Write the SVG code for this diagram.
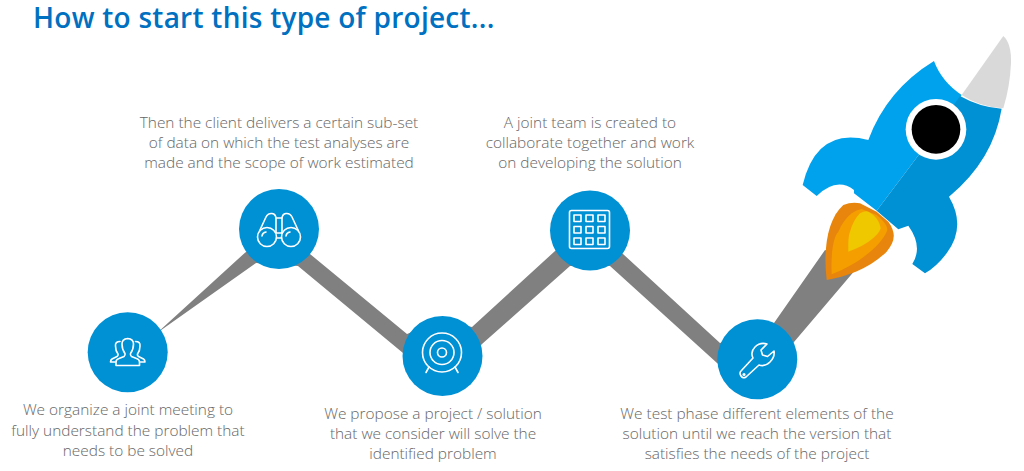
<svg xmlns="http://www.w3.org/2000/svg" width="1024" height="471" viewBox="0 0 1024 471">
<style>
.t{font-family:"Open Sans","Noto Sans","Liberation Sans",sans-serif;font-weight:300;font-size:15.4px;fill:#666;text-anchor:middle}
.title{font-family:"Open Sans","Noto Sans","Liberation Sans",sans-serif;font-weight:600;font-size:28px;fill:#0070c0;letter-spacing:.25px}
.c{fill:#0090d4}
.i{fill:none;stroke:#fff;stroke-width:1.6;stroke-linecap:round;stroke-linejoin:round}
</style>
<rect width="1024" height="471" fill="#fff"/>
<g id="title"><text class="title" x="33" y="28">How to start this type of project...</text></g>
<g id="connectors">
<path fill="#808080" d="M157 333L245 252.700L279 229L310 254L407 334L442 320L472 327L555 251L590 230L623 254L720 343L757 330L774 323L825 250L862 262L794 342L757 395L717 363L610 266L570 266L482 344L442 390L403 353L298 266L256 263Z"/>
</g>
<g id="node1">
<circle class="c" cx="127.700" cy="352.300" r="40"/>
<g class="i"><path d="M116 365.500L116 362Q116 359.500 119 358.500L124 356.500Q125.500 355.500 125 353.500Q122 349.500 122 344Q122 339 127.700 338.500Q133.500 339 133.500 344Q133.500 349.500 130.500 353.500Q130 355.500 131.500 356.500L136.500 358.500Q139.500 359.500 139.500 362L139.500 365.500Z"/>
<path d="M120 341.500Q115 341.500 115.500 346Q115.500 351 118 354Q118.500 356 116 357L112 359Q110.500 360 110.500 362L115 362"/>
<path d="M135.500 341.500Q140.500 341.500 140 346Q140 351 137.500 354Q137 356 139.500 357L143.500 359Q145 360 145 362L140.500 362"/></g>
</g>
<g id="node2">
<circle class="c" cx="279" cy="229" r="40"/>
<g class="i"><circle cx="267" cy="237" r="9.500"/><circle cx="291" cy="237" r="9.500"/>
<path d="M259.500 231L266 217Q268 213 272 213.500Q276 214 276 219L276 233M298.500 231L292 217Q290 213 286 213.500Q282 214 282 219L282 233M276 218L282 218M276.500 233L281.500 233M276.500 238L281.500 238"/>
<path d="M262 236Q262.500 232.500 266 232M286 236Q286.500 232.500 290 232"/></g>
</g>
<g id="node3">
<circle class="c" cx="442.500" cy="356" r="40"/>
<g class="i"><circle cx="442" cy="352.500" r="19.500"/><circle cx="442" cy="352.500" r="12"/><circle cx="442" cy="352.500" r="4.500"/>
<path d="M429 367L426 372.500M455 367L458 372.500"/></g>
</g>
<g id="node4">
<circle class="c" cx="590" cy="230.500" r="40"/>
<g class="i"><rect x="569.500" y="210.500" width="40" height="38" rx="2"/>
<rect x="574" y="215" width="7" height="6.500"/><rect x="586" y="215" width="7" height="6.500"/><rect x="598" y="215" width="7" height="6.500"/>
<rect x="574" y="226.500" width="7" height="6.500"/><rect x="586" y="226.500" width="7" height="6.500"/><rect x="598" y="226.500" width="7" height="6.500"/>
<rect x="574" y="238" width="7" height="6.500"/><rect x="586" y="238" width="7" height="6.500"/><rect x="598" y="238" width="7" height="6.500"/></g>
</g>
<g id="node5">
<circle class="c" cx="757.300" cy="359.300" r="40"/>
<g class="i"><path d="M741 371Q739 373 741 376Q743 379 746 377L759 365Q765 367 770 362Q775 357 774 351L767.500 356.500L762.500 355L761 350L767 344Q760 342 755 347Q750 352 753 358Z"/><circle cx="744" cy="374.500" r="0.800"/></g>
</g>
<g id="rocket" transform="translate(780 20) scale(.3333)">
<path fill="#e8850c" d="M140 780C130 690 140 600 190 555Q215 545 240 550L290 575L325 605C350 640 345 665 320 695C270 745 200 770 140 780Z"/>
<path fill="#f59e00" d="M155 763C152 700 160 650 175 635Q190 600 215 580Q230 570 245 567L290 585C320 610 325 625 320 635C300 680 230 735 155 763Z"/>
<path fill="#f0c800" d="M205 695C205 660 205 650 210 635Q220 600 240 580Q255 572 265 575C285 585 300 605 302 625C295 650 250 680 205 695Z"/>
<path fill="#d9d9d9" d="M545 225L670 48Q695 70 693 130Q690 200 670 265Q600 262 545 225Z"/>
<path fill="#00a2ee" d="M462 123Q485 185 545 225L420 400L290 572L222 520L222 510Q170 470 110 528L68 495Q110 320 265 360Q320 210 462 123Z"/>
<path fill="#0090d4" d="M540 228Q600 262 665 266Q640 420 507 530Q560 620 500 700Q470 740 435 760L397 732Q430 680 385 617L355 628L290 572L420 400Z"/>
<circle cx="468" cy="328" r="91" fill="#fff"/>
<circle cx="468" cy="328" r="73" fill="#000"/>
</g>
<g id="labels">
<text class="t"><tspan x="128" y="415">We organize a joint meeting to</tspan><tspan x="128" y="436">fully understand the problem that</tspan><tspan x="128" y="456">needs to be solved</tspan></text>
<text class="t"><tspan x="279" y="128">Then the client delivers a certain sub-set</tspan><tspan x="279" y="148">of data on which the test analyses are</tspan><tspan x="279" y="168">made and the scope of work estimated</tspan></text>
<text class="t"><tspan x="433" y="419">We propose a project / solution</tspan><tspan x="433" y="439">that we consider will solve the</tspan><tspan x="433" y="459">identified problem</tspan></text>
<text class="t"><tspan x="590" y="128">A joint team is created to</tspan><tspan x="590" y="148">collaborate together and work</tspan><tspan x="590" y="168">on developing the solution</tspan></text>
<text class="t"><tspan x="757" y="419">We test phase different elements of the</tspan><tspan x="757" y="439">solution until we reach the version that</tspan><tspan x="757" y="459">satisfies the needs of the project</tspan></text>
</g>
</svg>
